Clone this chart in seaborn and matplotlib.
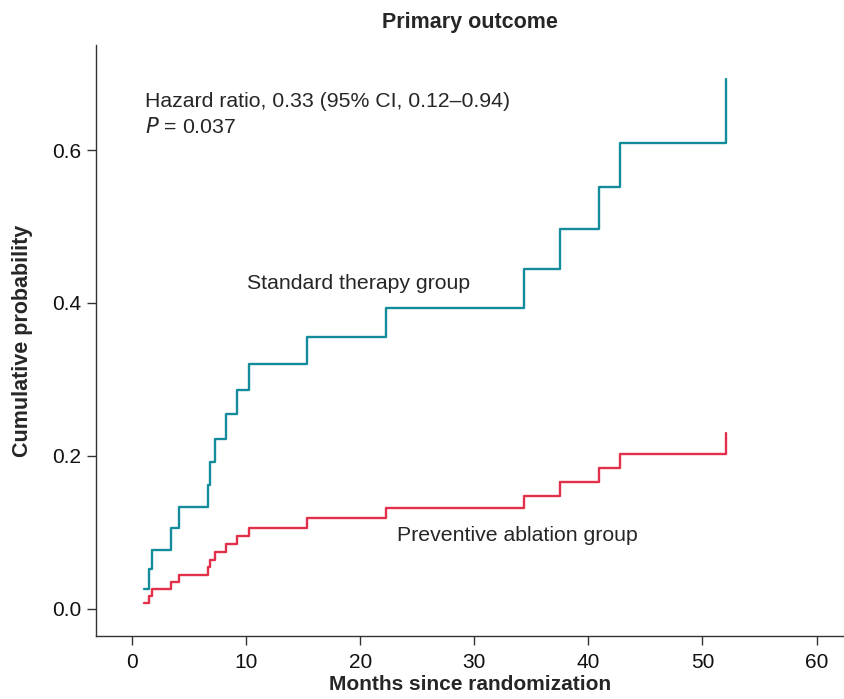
import matplotlib
matplotlib.use("Agg")
import matplotlib.pyplot as plt
import seaborn as sns
import pandas as pd

# Kaplan-Meier style cumulative incidence
months = [1.06, 1.5, 1.73, 3.39, 4.15, 6.64, 6.87, 7.28, 8.22, 9.21, 10.29,
          15.37, 22.24, 34.39, 37.52, 40.94, 42.75, 52.04]
standard = [0.025, 0.052, 0.077, 0.105, 0.133, 0.162, 0.192, 0.222, 0.254, 0.286,
            0.320, 0.355, 0.394, 0.444, 0.497, 0.552, 0.609, 0.693]
preventive = [0.0075, 0.017, 0.026, 0.035, 0.044, 0.054, 0.063, 0.074, 0.085, 0.095,
              0.106, 0.118, 0.131, 0.147, 0.165, 0.184, 0.202, 0.230]
xticks = [0, 10, 20, 30, 40, 50, 60]
yticks = [0.0, 0.2, 0.4, 0.6]

teal = "#138d9b"
red = "#e2304b"

sns.set_style("ticks")
plt.rcParams["font.family"] = ["Liberation Sans", "DejaVu Sans"]

df = pd.DataFrame({"month": months, "Standard": standard, "Preventive": preventive})

fig = plt.figure(figsize=(8.44, 6.99), dpi=100)
ax = fig.add_axes([0.1137, 0.0901, 0.8863, 0.8455])

sns.lineplot(data=df, x="month", y="Standard", ax=ax, color=teal, lw=1.7,
             drawstyle="steps-post", estimator=None, sort=False)
sns.lineplot(data=df, x="month", y="Preventive", ax=ax, color=red, lw=1.7,
             drawstyle="steps-post", estimator=None, sort=False)

ax.set_xlim(-3.15, 62.4)
ax.set_ylim(-0.036, 0.7376)
ax.set_xticks(xticks)
ax.set_yticks(yticks)
ax.set_xticklabels([str(t) for t in xticks])
ax.set_yticklabels([f"{t:.1f}" for t in yticks])
ax.tick_params(labelsize=15, length=6.5, width=1, color="#333333", colors="#111111")
ax.tick_params(axis="x", pad=6)
ax.tick_params(axis="y", pad=4)
for s in ["top", "right"]:
    ax.spines[s].set_visible(False)
for s in ["left", "bottom"]:
    ax.spines[s].set_color("#333333")
    ax.spines[s].set_linewidth(1)

ax.set_xlabel("Months since randomization", fontsize=15, fontweight="bold", labelpad=2)
ax.set_ylabel("Cumulative probability", fontsize=15.5, fontweight="bold", labelpad=14)
ax.set_title("Primary outcome", fontsize=15.5, fontweight="bold", pad=12)

ax.text(1.15, 0.664, "Hazard ratio, 0.33 (95% CI, 0.12\u20130.94)", fontsize=15.3, va="center")
ax.text(1.15, 0.630, "$\\mathit{P}$ = 0.037", fontsize=15.3, va="center")
ax.text(10.1, 0.426, "Standard therapy group", fontsize=15.3, va="center")
ax.text(23.2, 0.096, "Preventive ablation group", fontsize=15.3, va="center")

fig.savefig("out.png", dpi=100)
